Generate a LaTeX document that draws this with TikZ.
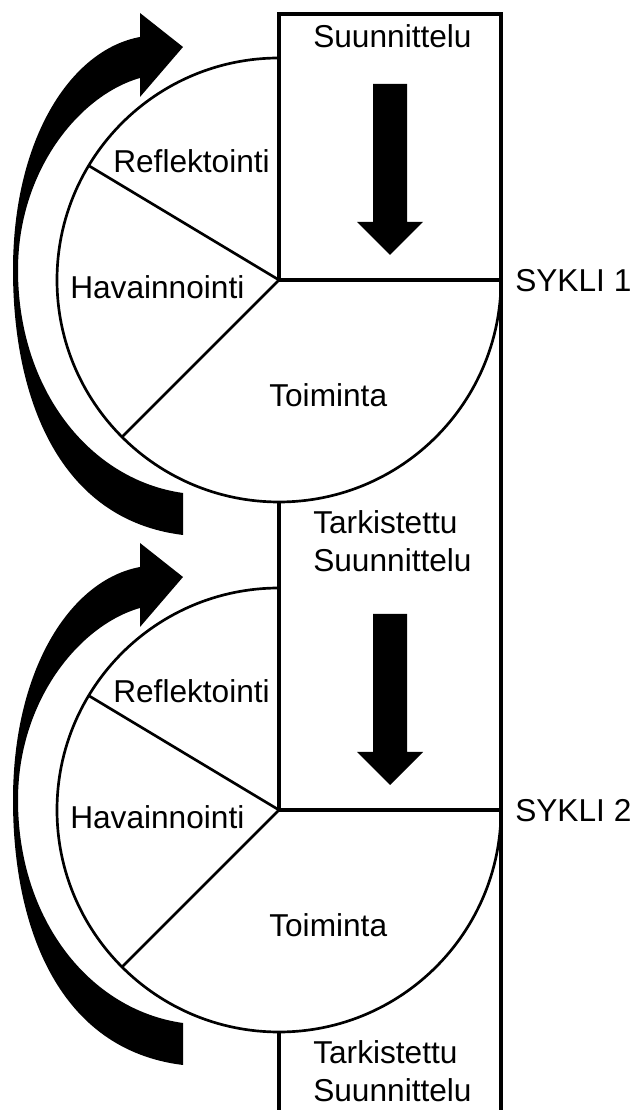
\documentclass[tikz,border=0pt]{standalone}
\usepackage{fontspec}
\setmainfont{Liberation Sans}

\begin{document}
\begin{tikzpicture}[x=0.025cm, y=0.025cm,
  frame/.style={line width=2.2pt},
  rim/.style={line width=1.9pt},
  lbl/.style={font=\fontsize{22.5}{27}\selectfont, inner sep=0pt, anchor=base west}]
\useasboundingbox (0,0) rectangle (635,1110);
% box
\draw[frame] (279,830) -- (279,1096) -- (501,1096) -- (501,0);
\draw[frame] (279,608) -- (279,300);
\draw[frame] (279,78) -- (279,0);
\node[lbl] (plan) at (313,1062) {Suunnittelu};
\foreach \n/\cy in {1/830, 2/300} {
\begin{scope}[shift={(279,\cy)}]
\coordinate (c\n) at (0,0);
\coordinate (r\n) at (149:222);
\coordinate (h\n) at (225:222);
\coordinate (e\n) at (222,0);
\draw[rim] (0,222) arc (90:360:222);
\draw[frame] (e\n) -- (c\n);
\draw[rim] (c\n) -- (r\n);
\draw[rim] (c\n) -- (h\n);
% down arrow
\fill (94,196) -- (128,196) -- (128,58) -- (144,58) -- (111,25)
  -- (78,58) -- (94,58) -- cycle;
% cycle arrow
\fill (-96,-255) .. controls (-219,-240) and (-266,-120) .. (-266,10)
  .. controls (-266,140) and (-209,230) .. (-139,243)
  -- (-139,267) -- (-96,233) -- (-139,183) -- (-139,202)
  .. controls (-199,185) and (-261,110) .. (-261,10)
  .. controls (-261,-110) and (-189,-200) .. (-96,-213) -- cycle;
\node[lbl] (refl\n) at (-166,107) {Reflektointi};
\node[lbl] (hav\n) at (-209,-19) {Havainnointi};
\node[lbl] (toim\n) at (-10,-127) {Toiminta};
\node[lbl] (sykli\n) at (236,-12) {SYKLI \n};
\node[lbl] (tark\n) at (34,-254) {Tarkistettu};
\node[lbl] (suun\n) at (34,-292) {Suunnittelu};
\end{scope}
}
\end{tikzpicture}
\end{document}
